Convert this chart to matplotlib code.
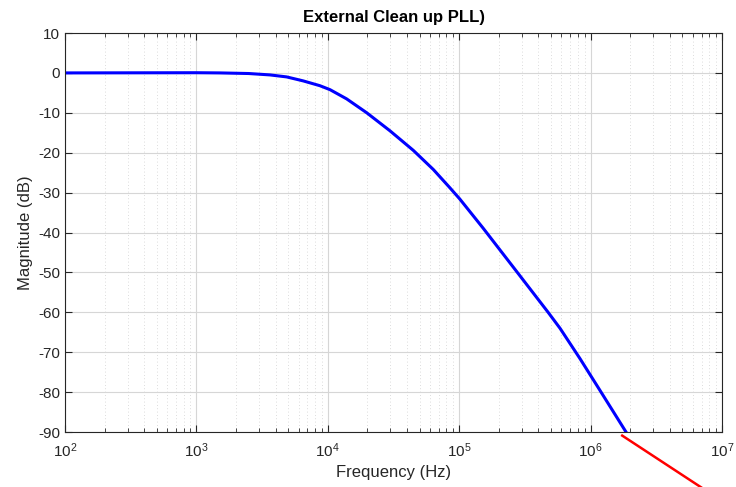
import numpy as np
import matplotlib
matplotlib.use("Agg")
import matplotlib.pyplot as plt

plt.rcParams['font.family'] = ['Liberation Sans', 'DejaVu Sans']
plt.rcParams['mathtext.fontset'] = 'custom'
plt.rcParams['mathtext.rm'] = 'Liberation Sans'
plt.rcParams['axes.unicode_minus'] = False

# values
freq = [100, 1000, 1510, 2500, 3630, 4860, 6500, 8700, 10400, 13900,
        19800, 29700, 44700, 63500, 85000, 101000, 152000, 274000,
        475000, 585000, 830000, 1180000, 1860000]
mag = [0.0, 0.05, 0.0, -0.15, -0.5, -1.0, -2.0, -3.2, -4.2, -6.5,
       -10.0, -14.5, -19.4, -24.2, -28.8, -31.6, -38.9, -49.8,
       -60.0, -64.0, -71.6, -79.6, -90.0]

red_freq = [1.74e6, 1e7]
red_mag = [-90.9, -107.3]

yticks = list(range(-90, 11, 10))

fig = plt.figure(figsize=(7.36, 4.87), dpi=100)
ax = fig.add_axes([0.0883, 0.1129, 0.8927, 0.8193])

ax.semilogx(freq, mag, color="blue", lw=2.2, solid_joinstyle="round")
ax.semilogx(red_freq, red_mag, color="red", lw=1.8, clip_on=False)

ax.set_xlim(1e2, 1e7)
ax.set_ylim(-90, 10)
ax.set_yticks(yticks)

ax.grid(True, which="major", color="#d6d6d6", lw=0.8)
ax.grid(True, which="minor", axis="x", color="#d0d0d0", lw=0.6, ls=(0, (1, 3)))
ax.set_axisbelow(True)

ax.tick_params(which="both", direction="in", top=True, right=True,
               labelsize=11, colors="#262626")
ax.tick_params(which="major", length=5)
ax.tick_params(which="minor", length=3)
ax.tick_params(axis="x", which="both", pad=7)
for s in ax.spines.values():
    s.set_color("#262626")
    s.set_linewidth(0.8)

ax.set_xlabel("Frequency (Hz)", fontsize=12, color="#262626", labelpad=3)
ax.set_ylabel("Magnitude (dB)", fontsize=12, color="#262626")
ax.set_title("External Clean up PLL)", fontsize=12, fontweight="bold", pad=8)

fig.savefig("out.png", dpi=100)
